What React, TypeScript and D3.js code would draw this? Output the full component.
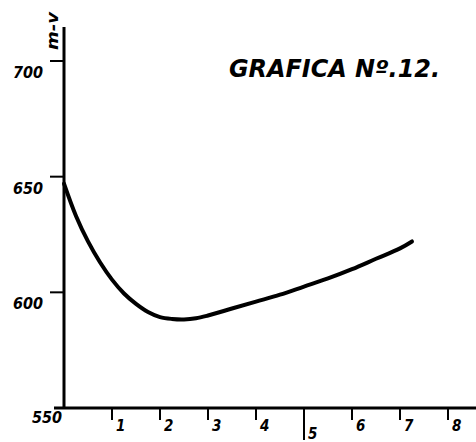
import React, { useEffect, useRef } from "react";
import * as d3 from "d3";

// curve
const xValues = [0, 0.25, 0.5, 0.75, 1, 1.25, 1.5, 1.75, 2, 2.25, 2.5, 2.75, 3, 3.5, 4, 4.5, 5, 5.5, 6, 6.5, 7, 7.25];
const mvValues = [647, 633, 622, 613, 605.5, 599.5, 595, 591.5, 589.3, 588.5, 588.3, 588.8, 590, 593, 596, 599, 602.5, 606, 610, 614.5, 619, 622];

const yTicks = [550, 600, 650, 700];
const xTicks = [1, 2, 3, 4, 5, 6, 7, 8];
const title = "GRAFICA Nº.12.";
const yLabel = "m-v";

const FONT = "'DejaVu Sans Condensed', 'DejaVu Sans', sans-serif";

const App = () => {
  const chartRef = useRef<SVGSVGElement>(null);

  useEffect(() => {
    const svg = d3.select(chartRef.current);
    svg.selectAll("*").remove();

    const x = d3.scaleLinear().domain([0, 8]).range([64, 448]);
    const y = d3.scaleLinear().domain([550, 700]).range([408, 61]);

    // axes lines
    svg.append("line")
      .attr("x1", x(0)).attr("x2", x(0))
      .attr("y1", 27).attr("y2", y(550))
      .attr("stroke", "#000").attr("stroke-width", 3);
    svg.append("line")
      .attr("x1", 54).attr("x2", 476)
      .attr("y1", y(550)).attr("y2", y(550))
      .attr("stroke", "#000").attr("stroke-width", 3);

    // y ticks
    const yg = svg.append("g");
    yg.selectAll("line")
      .data(yTicks.filter(d => d > 550))
      .enter()
      .append("line")
      .attr("x1", 50).attr("x2", x(0))
      .attr("y1", d => y(d)).attr("y2", d => y(d))
      .attr("stroke", "#000").attr("stroke-width", 2);
    yg.selectAll("text")
      .data(yTicks)
      .enter()
      .append("text")
      .attr("x", d => (d === 550 ? 62 : 43))
      .attr("y", d => y(d) + (d === 550 ? 15 : 17))
      .attr("text-anchor", "end")
      .attr("font-family", FONT)
      .attr("font-style", "italic")
      .attr("font-weight", "bold")
      .attr("font-size", 16)
      .text(d => d);

    // x ticks
    const xg = svg.append("g");
    xg.selectAll("line")
      .data(xTicks)
      .enter()
      .append("line")
      .attr("x1", d => x(d)).attr("x2", d => x(d))
      .attr("y1", y(550)).attr("y2", d => y(550) + (d === 5 ? 32 : 12))
      .attr("stroke", "#000").attr("stroke-width", 2);
    xg.selectAll("text")
      .data(xTicks)
      .enter()
      .append("text")
      .attr("x", d => x(d) + 4)
      .attr("y", d => (d === 5 ? 439 : 431))
      .attr("font-family", FONT)
      .attr("font-style", "italic")
      .attr("font-weight", "bold")
      .attr("font-size", 15)
      .text(d => d);

    // curve
    const line = d3.line<number>()
      .x((_, i) => x(xValues[i]))
      .y(d => y(d))
      .curve(d3.curveCatmullRom.alpha(0.5));
    svg.append("path")
      .attr("d", line(mvValues))
      .attr("fill", "none")
      .attr("stroke", "#000")
      .attr("stroke-width", 4)
      .attr("stroke-linecap", "round");

    // title
    svg.append("text")
      .attr("x", 229)
      .attr("y", 77)
      .attr("textLength", 211)
      .attr("lengthAdjust", "spacingAndGlyphs")
      .attr("font-family", FONT)
      .attr("font-style", "italic")
      .attr("font-weight", "bold")
      .attr("font-size", 24)
      .text(title);

    // y axis label
    svg.append("text")
      .attr("transform", "translate(58, 50) rotate(-90)")
      .attr("textLength", 38)
      .attr("lengthAdjust", "spacingAndGlyphs")
      .attr("font-family", FONT)
      .attr("font-style", "italic")
      .attr("font-weight", "bold")
      .attr("font-size", 15)
      .text(yLabel);
  }, []);

  return (
    <svg
      ref={chartRef}
      width={476}
      height={442}
      style={{ position: "fixed", top: 0, left: 0, background: "#fff" }}
    />
  );
};

export default App;
